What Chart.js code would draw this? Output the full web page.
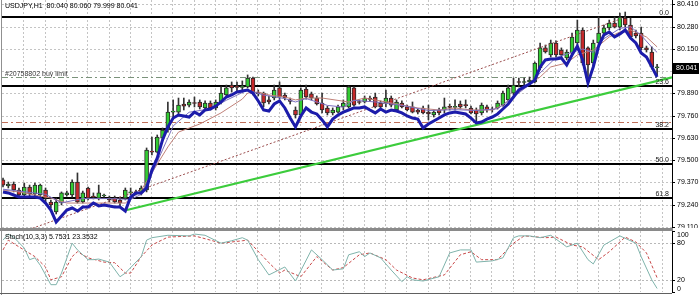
<!DOCTYPE html>
<html><head><meta charset="utf-8">
<script src="https://cdn.jsdelivr.net/npm/chart.js@4.4.1/dist/chart.umd.min.js"></script>
<style>
html,body{margin:0;padding:0;background:#fff;}
#wrap{position:relative;width:700px;height:295px;overflow:hidden;background:#fff;}
#main{position:absolute;left:0;top:0;}
#stoch{position:absolute;left:0;top:231px;}
#sep{position:absolute;left:0;top:228px;width:673px;height:3px;background:#8a8a8a;}
</style></head>
<body><div id="wrap"><canvas id="main" width="700" height="228"></canvas><div id="sep"></div><canvas id="stoch" width="700" height="64"></canvas></div>
<script>
// ---------------- DATA ----------------
const titleText = 'USDJPY,H1  80.040 80.060 79.999 80.041';
const stochTitle = 'Stoch(10,3,3) 5.7531 23.3532';
const open = [79.384,79.349,79.360,79.325,79.296,79.343,79.302,79.296,79.325,79.255,
79.197,79.249,79.296,79.296,79.372,79.255,79.337,79.290,79.278,79.290,
79.278,79.278,79.267,79.278,79.308,79.314,79.308,79.325,79.553,79.547,
79.629,79.676,79.781,79.781,79.828,79.822,79.834,79.840,79.805,79.834,
79.805,79.840,79.881,79.939,79.928,79.925,79.928,79.980,79.898,79.892,
79.852,79.863,79.922,79.881,79.852,79.793,79.764,79.916,79.887,79.863,
79.834,79.805,79.776,79.781,79.811,79.811,79.922,79.840,79.840,79.863,
79.869,79.834,79.834,79.863,79.793,79.834,79.811,79.811,79.793,79.805,
79.781,79.764,79.793,79.793,79.811,79.808,79.828,79.822,79.805,79.793,
79.776,79.811,79.799,79.805,79.822,79.852,79.892,79.957,79.954,79.957,
79.957,80.039,80.156,80.115,80.185,80.144,80.097,80.126,80.185,80.261,
80.156,80.068,80.185,80.243,80.273,80.302,80.278,80.331,80.290,80.243,
80.243,80.156,80.132,80.040];
const high = [79.395,79.372,79.372,79.337,79.366,79.354,79.366,79.360,79.337,79.267,
79.278,79.314,79.319,79.384,79.425,79.319,79.343,79.308,79.354,79.302,
79.290,79.290,79.284,79.337,79.337,79.325,79.349,79.571,79.635,79.647,
79.688,79.840,79.852,79.863,79.863,79.852,79.869,79.852,79.846,79.846,
79.852,79.928,79.939,79.957,79.957,79.963,79.998,79.986,79.910,79.898,
79.875,79.939,79.957,79.892,79.863,79.811,79.922,79.939,79.898,79.875,
79.892,79.816,79.805,79.822,79.852,79.933,79.928,79.852,79.875,79.875,
79.892,79.846,79.910,79.875,79.852,79.846,79.822,79.840,79.799,79.816,
79.822,79.793,79.805,79.863,79.828,79.852,79.846,79.852,79.816,79.805,
79.834,79.822,79.811,79.846,79.904,79.939,79.980,79.980,79.980,79.986,
80.074,80.185,80.173,80.202,80.197,80.156,80.144,80.243,80.319,80.273,
80.162,80.202,80.337,80.290,80.319,80.337,80.360,80.366,80.331,80.261,
80.278,80.167,80.162,80.060];
const low = [79.343,79.337,79.314,79.284,79.284,79.290,79.284,79.284,79.249,79.220,
79.185,79.238,79.290,79.284,79.249,79.249,79.267,79.273,79.267,79.284,
79.255,79.249,79.226,79.267,79.296,79.296,79.296,79.314,79.530,79.542,
79.618,79.664,79.752,79.770,79.793,79.811,79.811,79.799,79.793,79.793,
79.793,79.828,79.869,79.898,79.898,79.910,79.922,79.881,79.875,79.811,
79.828,79.852,79.857,79.852,79.828,79.746,79.758,79.857,79.852,79.822,
79.776,79.764,79.764,79.776,79.793,79.805,79.816,79.828,79.834,79.846,
79.805,79.805,79.811,79.811,79.787,79.805,79.787,79.776,79.770,79.770,
79.735,79.752,79.764,79.776,79.793,79.793,79.799,79.805,79.770,79.717,
79.764,79.781,79.781,79.799,79.816,79.846,79.881,79.928,79.939,79.945,
79.951,80.027,80.126,80.103,80.103,80.103,80.086,80.115,80.173,80.056,
79.928,80.050,80.173,80.232,80.261,80.273,80.261,80.278,80.214,80.214,
80.144,80.132,80.033,79.999];
const close = [79.354,79.360,79.325,79.296,79.343,79.302,79.354,79.354,79.278,79.238,
79.255,79.308,79.308,79.372,79.255,79.308,79.278,79.284,79.308,79.296,
79.267,79.255,79.249,79.325,79.314,79.302,79.337,79.559,79.547,79.635,
79.676,79.781,79.787,79.822,79.816,79.840,79.831,79.811,79.834,79.805,
79.840,79.892,79.922,79.922,79.925,79.928,79.980,79.892,79.887,79.834,
79.840,79.910,79.869,79.863,79.843,79.764,79.910,79.869,79.863,79.828,
79.793,79.776,79.793,79.811,79.834,79.928,79.822,79.837,79.863,79.855,
79.811,79.811,79.863,79.822,79.840,79.811,79.793,79.781,79.781,79.776,
79.770,79.781,79.776,79.811,79.808,79.811,79.811,79.819,79.776,79.770,
79.822,79.793,79.793,79.834,79.892,79.922,79.939,79.954,79.957,79.968,
80.068,80.156,80.132,80.185,80.115,80.115,80.132,80.220,80.261,80.068,
80.056,80.185,80.243,80.273,80.302,80.278,80.337,80.290,80.220,80.226,
80.156,80.144,80.045,80.041];
// thick blue moving average, one value per bar
const fastLine = [79.314,79.308,79.296,79.284,79.284,79.284,79.284,79.278,79.249,79.208,
79.138,79.173,79.208,79.220,79.202,79.226,79.226,79.249,79.232,79.238,
79.232,79.226,79.226,79.202,79.284,79.308,79.308,79.337,79.442,79.512,
79.618,79.694,79.746,79.764,79.758,79.752,79.781,79.764,79.793,79.799,
79.816,79.840,79.869,79.881,79.898,79.904,79.910,79.892,79.846,79.793,
79.787,79.828,79.846,79.805,79.746,79.694,79.758,79.805,79.781,79.770,
79.735,79.694,79.740,79.764,79.781,79.793,79.805,79.805,79.811,79.793,
79.776,79.799,79.781,79.793,79.787,79.776,79.758,79.746,79.740,79.688,
79.711,79.729,79.746,79.764,79.776,79.781,79.776,79.770,79.746,79.717,
79.723,79.740,79.752,79.770,79.799,79.828,79.869,79.910,79.928,79.945,
79.968,80.045,80.086,80.091,80.091,80.097,80.056,80.115,80.167,80.086,
79.951,80.045,80.167,80.232,80.249,80.220,80.238,80.261,80.214,80.185,
80.126,80.103,80.045,79.986];
// thin purple line
const midIdx = [0,8,11,15,20,24,26,28,30,32,35,39,42,46,49,53,55,57,61,64,66,70,75,80,85,89,93,96,99,101,104,107,109,111,113,116,118,120,122,123];
const midVal = [79.330,79.300,79.250,79.275,79.275,79.270,79.300,79.420,79.560,79.700,79.780,79.800,79.850,79.910,79.880,79.860,79.840,79.860,79.820,79.810,79.850,79.840,79.820,79.790,79.795,79.790,79.800,79.870,79.940,80.010,80.100,80.130,80.150,80.130,80.210,80.270,80.280,80.230,80.160,80.130];
// thin brown slow line
const slowIdx = [0,3,9,12,18,23,26,31,33,37,41,45,46,48,50,53,55,57,60,65,68,72,75,78,82,85,88,92,94,98,101,103,106,108,111,114,116,118,121,123];
const slowVal = [79.325,79.314,79.278,79.249,79.249,79.249,79.325,79.577,79.664,79.711,79.776,79.857,79.892,79.898,79.881,79.869,79.852,79.863,79.863,79.840,79.863,79.840,79.822,79.805,79.793,79.805,79.793,79.793,79.822,79.922,79.986,80.045,80.068,80.115,80.144,80.220,80.249,80.261,80.220,80.162];
// green support trend line and Fibonacci base line
const trendIdx = [23.3, 125.8];
const trendVal = [79.208, 79.984];
const fibBaseIdx = [-37.7, 117];
const fibBaseVal = [78.623, 80.335];
const fibLevels = [80.335, 79.931, 79.681, 79.479, 79.277];
const fibLabels = ['0.0', '23.6', '38.2', '50.0', '61.8'];
const buyLimitPrice = 79.985;
const buyLimitLabel = '#20758802 buy limit';
const stopPrice = 79.721;
const lastPrice = 80.041;
const priceTicks = [80.410,80.280,80.150,80.020,79.890,79.760,79.630,79.500,79.370,79.240,79.110];
// stochastic
const kIdx = [0,1,2,4,5,6,7,9,10,11,13,14,16,17,18,20,22,23,26,27,28,31,35,36,38,41,43,45,46,48,50,53,55,58,60,62,64,65,67,68,69,71,73,75,76,77,79,82,84,86,88,89,92,94,96,97,99,101,103,106,108,110,111,113,116,119,120,122,123];
const kVal = [85,95,90,72,53,56,44,12,12,31,80,69,53,53,54,49,25,31,58,85,89,93,92,95,93,80,84,89,85,53,28,41,18,69,53,36,38,61,66,58,64,56,36,17,25,20,18,25,64,69,69,49,51,56,89,92,92,89,93,74,80,53,46,77,92,80,58,20,5.7531];
const dIdx = [0,1,3,6,8,9,11,13,14,16,19,21,23,24,26,28,31,36,39,41,45,46,50,52,53,56,59,62,64,67,69,72,74,77,79,83,86,88,90,93,96,98,102,104,107,109,112,114,117,119,121,123];
const dVal = [69,85,74,58,41,20,25,58,66,56,49,48,31,31,58,77,90,92,85,80,84,85,48,31,36,25,58,36,40,61,64,53,36,23,20,28,61,66,53,53,80,92,89,90,77,74,53,66,90,82,64,23.3532];
const stochTicks = [100, 80, 20, 0];
const stochLevels = [80, 20];

// ---------------- STYLE / LAYOUT ----------------
const X_MIN = -0.19, X_MAX = 125.8;
const GRID_START = 3.85, GRID_STEP = 4;
const FONT = '7px "Liberation Sans", Arial, sans-serif';
const UP = '#33cc33', DOWN = '#c8282a', EDGE = '#2a2a2a';

const pts = (xs, ys) => xs.map((x, i) => ({x: x, y: ys[i]}));
const bars = open.map((_, i) => i);

function seg(ctx, x1, y1, x2, y2, color, w, dash) {
  ctx.save(); ctx.strokeStyle = color; ctx.lineWidth = w; ctx.setLineDash(dash || []);
  ctx.beginPath(); ctx.moveTo(x1, y1); ctx.lineTo(x2, y2); ctx.stroke(); ctx.restore();
}
function txt(ctx, s, x, y, color, align, base) {
  ctx.save(); ctx.font = FONT; ctx.fillStyle = color; ctx.textAlign = align || 'left';
  ctx.textBaseline = base || 'middle'; ctx.fillText(s, x, y); ctx.restore();
}
function vGrid(chart) {
  const {ctx, chartArea: a, scales: {x}} = chart;
  for (let g = GRID_START; g < X_MAX; g += GRID_STEP) {
    const px = Math.round(x.getPixelForValue(g)) + 0.5;
    seg(ctx, px, a.top, px, a.bottom, '#c4c4c4', 1, [2, 2]);
  }
}

const mainDecor = {
  id: 'mainDecor',
  beforeDatasetsDraw(chart) {
    const {ctx, chartArea: a, scales: {y}} = chart;
    priceTicks.forEach(v => {
      const py = Math.round(y.getPixelForValue(v)) + 0.5;
      seg(ctx, a.left, py, a.right, py, '#c4c4c4', 1, [2, 2]);
    });
    vGrid(chart);
    let py = Math.round(y.getPixelForValue(buyLimitPrice)) + 0.5;
    seg(ctx, a.left, py, a.right, py, '#7a927a', 1, [6, 3, 2, 3]);
    py = Math.round(y.getPixelForValue(stopPrice)) + 0.5;
    seg(ctx, a.left, py, a.right, py, '#c0705a', 1, [6, 3, 2, 3]);
    fibLevels.forEach(v => {
      const p = Math.round(y.getPixelForValue(v));
      seg(ctx, a.left, p, a.right, p, '#000', 2);
    });
  },
  afterDraw(chart) {
    const {ctx, chartArea: a, scales: {y}} = chart;
    fibLevels.forEach((v, i) => {
      const p = y.getPixelForValue(v);
      txt(ctx, fibLabels[i], a.right - 3, p - 2, '#202020', 'right', 'alphabetic');
    });
    txt(ctx, buyLimitLabel, 5, y.getPixelForValue(buyLimitPrice) - 1.5, '#404040', 'left', 'alphabetic');
    txt(ctx, titleText, 5, 6, '#000');
    seg(ctx, a.right + 0.5, 0, a.right + 0.5, chart.height, '#000', 1);
    seg(ctx, 1.5, 0, 1.5, chart.height, '#909090', 1);
    const lp = y.getPixelForValue(lastPrice);
    priceTicks.forEach(v => {
      const p = y.getPixelForValue(v);
      seg(ctx, a.right, Math.round(p) + 0.5, a.right + 3, Math.round(p) + 0.5, '#000', 1);
      if (Math.abs(p - lp) > 8) txt(ctx, v.toFixed(3), a.right + 5, p, '#000');
    });
    ctx.save(); ctx.fillStyle = '#000'; ctx.fillRect(a.right + 1, Math.round(lp) - 5, 26, 11); ctx.restore();
    txt(ctx, lastPrice.toFixed(3), a.right + 4, lp + 0.5, '#fff');
  }
};

const stochDecor = {
  id: 'stochDecor',
  beforeDatasetsDraw(chart) {
    const {ctx, chartArea: a, scales: {y}} = chart;
    vGrid(chart);
    stochLevels.forEach(v => {
      const p = Math.round(y.getPixelForValue(v)) + 0.5;
      seg(ctx, a.left, p, a.right, p, '#b8b8b8', 1, [2, 2]);
    });
  },
  afterDraw(chart) {
    const {ctx, chartArea: a, scales: {y}} = chart;
    seg(ctx, a.right + 0.5, 0, a.right + 0.5, a.bottom + 1, '#000', 1);
    seg(ctx, 1.5, 0, 1.5, chart.height, '#909090', 1);
    seg(ctx, 0, a.bottom + 1.5, a.right, a.bottom + 1.5, '#606060', 1);
    stochTicks.forEach(v => {
      const p = y.getPixelForValue(v);
      const ly = Math.min(Math.max(p, a.top + 4), a.bottom - 3);
      seg(ctx, a.right, Math.round(p) + 0.5, a.right + 3, Math.round(p) + 0.5, '#000', 1);
      txt(ctx, String(v), a.right + 5, ly, '#000');
    });
    txt(ctx, stochTitle, 5, 6, '#000');
  }
};

const xScale = {type: 'linear', min: X_MIN, max: X_MAX, display: false, offset: false};
const common = {
  responsive: false, animation: false, events: [],
  plugins: {legend: {display: false}, tooltip: {enabled: false}}
};

new Chart(document.getElementById('main'), {
  type: 'bar',
  data: {
    datasets: [
      {type: 'line', data: pts(bars, fastLine), borderColor: '#1c1caa', borderWidth: 3, pointRadius: 0, tension: 0},
      {type: 'line', data: pts(midIdx, midVal), borderColor: '#7b6fc0', borderWidth: 1, pointRadius: 0, tension: 0},
      {type: 'line', data: pts(slowIdx, slowVal), borderColor: '#c08078', borderWidth: 1, pointRadius: 0, tension: 0},
      {type: 'line', data: pts(trendIdx, trendVal), borderColor: '#3ccc3c', borderWidth: 2.2, pointRadius: 0},
      {type: 'line', data: pts(fibBaseIdx, fibBaseVal), borderColor: '#9a4c4c', borderWidth: 1, borderDash: [2, 2], pointRadius: 0},
      {type: 'bar', data: bars.map(i => ({x: i, y: [open[i], close[i]]})),
       backgroundColor: bars.map(i => close[i] >= open[i] ? UP : DOWN),
       borderColor: EDGE, borderWidth: 1, borderSkipped: false, barThickness: 4, grouped: false, minBarLength: 1},
      {type: 'bar', data: bars.map(i => ({x: i, y: [low[i], high[i]]})),
       backgroundColor: '#333', borderWidth: 0, barThickness: 1, grouped: false}
    ]
  },
  options: Object.assign({}, common, {
    layout: {padding: {left: 2, right: 28, top: 0, bottom: 0}},
    scales: {x: xScale, y: {type: 'linear', min: 79.103, max: 80.4363, display: false}}
  }),
  plugins: [mainDecor]
});

new Chart(document.getElementById('stoch'), {
  type: 'line',
  data: {
    datasets: [
      {data: pts(kIdx, kVal), borderColor: '#7fb3ab', borderWidth: 1, pointRadius: 0, tension: 0},
      {data: pts(dIdx, dVal), borderColor: '#c84848', borderWidth: 1, borderDash: [3, 2], pointRadius: 0, tension: 0}
    ]
  },
  options: Object.assign({}, common, {
    layout: {padding: {left: 2, right: 28, top: 0, bottom: 3}},
    scales: {x: xScale, y: {type: 'linear', min: 0, max: 100, display: false}}
  }),
  plugins: [stochDecor]
});
</script>
</body></html>
